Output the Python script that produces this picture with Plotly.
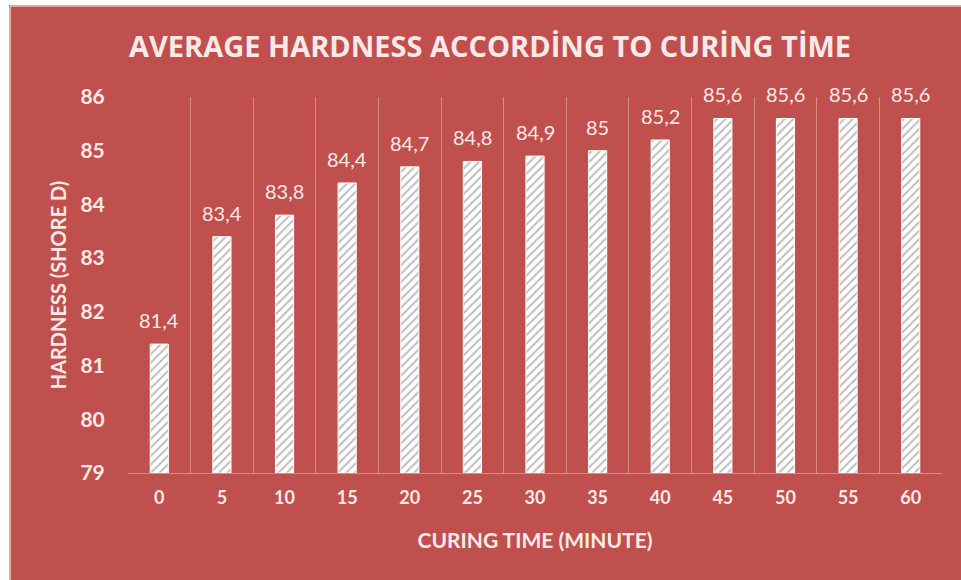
import plotly.graph_objects as go

curing_time = [0, 5, 10, 15, 20, 25, 30, 35, 40, 45, 50, 55, 60]
hardness = [81.4, 83.4, 83.8, 84.4, 84.7, 84.8, 84.9, 85.0, 85.2, 85.6, 85.6, 85.6, 85.6]
y_ticks = [79, 80, 81, 82, 83, 84, 85, 86]
value_labels = ["81,4", "83,4", "83,8", "84,4", "84,7", "84,8", "84,9", "85", "85,2", "85,6", "85,6", "85,6", "85,6"]

BG = "#C0504D"
TXT = "#FBE9E8"
GRID = "#D98A88"
EDGE = "#E9A3A1"

W, H = 961, 580
L, R, T, B = 128, 19, 97, 107
PW, PH = W - L - R, H - T - B


def px_x(v):
    return (v - L) / PW


def px_y(v):
    return (H - B - v) / PH


fig = go.Figure()
fig.add_trace(go.Bar(
    x=curing_time,
    y=[h - 79 for h in hardness],
    base=79,
    marker=dict(
        color="white",
        line=dict(color="white", width=1),
        pattern=dict(shape="/", fgcolor="#7a7a7a", size=6, solidity=0.32),
    ),
    hoverinfo="skip",
))

for t, h, lab in zip(curing_time, hardness, value_labels):
    fig.add_annotation(x=t, y=h, text=lab, showarrow=False, yanchor="middle",
                       yshift=24, font=dict(family="Lato", size=20, color=TXT))

fig.update_layout(
    width=W, height=H,
    paper_bgcolor=BG, plot_bgcolor=BG,
    margin=dict(l=L, r=R, t=T, b=B),
    bargap=0.71,
    showlegend=False,
    title=dict(
        text="<b>AVERAGE HARDNESS ACCORDİNG TO CURİNG TİME</b>",
        x=490 / W, xanchor="center", y=1 - 47 / H, yanchor="middle",
        font=dict(family="Open Sans", size=29, color=TXT),
    ),
    xaxis=dict(
        range=[-2.5, 62.5],
        tickvals=curing_time,
        ticktext=[str(t) for t in curing_time],
        showgrid=False, zeroline=False,
        showline=True, linecolor=GRID, linewidth=1,
        ticks="outside", ticklen=8, tickcolor="rgba(0,0,0,0)",
        tickfont=dict(family="Lato", size=18, color=TXT, weight="bold"),
        minor=dict(tick0=2.5, dtick=5, showgrid=True, gridcolor=GRID, gridwidth=1),
        title=dict(text="<b>CURING TIME (MINUTE)</b>", standoff=26,
                   font=dict(family="Lato", size=21, color=TXT)),
        fixedrange=True,
    ),
    yaxis=dict(
        range=[79, 86],
        tickvals=y_ticks,
        showgrid=False, zeroline=False, showline=False,
        ticks="outside", ticklen=18, tickcolor="rgba(0,0,0,0)",
        tickfont=dict(family="Lato", size=21, color=TXT, weight="bold"),
        title=dict(text="<b>HARDNESS (SHORE D)</b>", standoff=8,
                   font=dict(family="Lato", size=20, color=TXT)),
        fixedrange=True,
    ),
    shapes=[
        dict(type="rect", xref="paper", yref="paper",
             x0=px_x(-5), x1=px_x(9), y0=px_y(H + 5), y1=px_y(-5),
             fillcolor="white", line=dict(width=0), layer="below"),
        dict(type="rect", xref="paper", yref="paper",
             x0=px_x(-5), x1=px_x(W + 5), y0=px_y(5), y1=px_y(-5),
             fillcolor="white", line=dict(width=0), layer="below"),
        dict(type="line", xref="paper", yref="paper",
             x0=px_x(10), x1=px_x(10), y0=px_y(H + 5), y1=px_y(6),
             line=dict(color=EDGE, width=2), layer="below"),
        dict(type="line", xref="paper", yref="paper",
             x0=px_x(10), x1=px_x(W + 5), y0=px_y(6), y1=px_y(6),
             line=dict(color=EDGE, width=2), layer="below"),
    ],
)

fig.write_html(
    "out.html",
    config={"displayModeBar": False},
    post_script="document.body.style.margin='0';document.body.style.overflow='hidden';",
)
